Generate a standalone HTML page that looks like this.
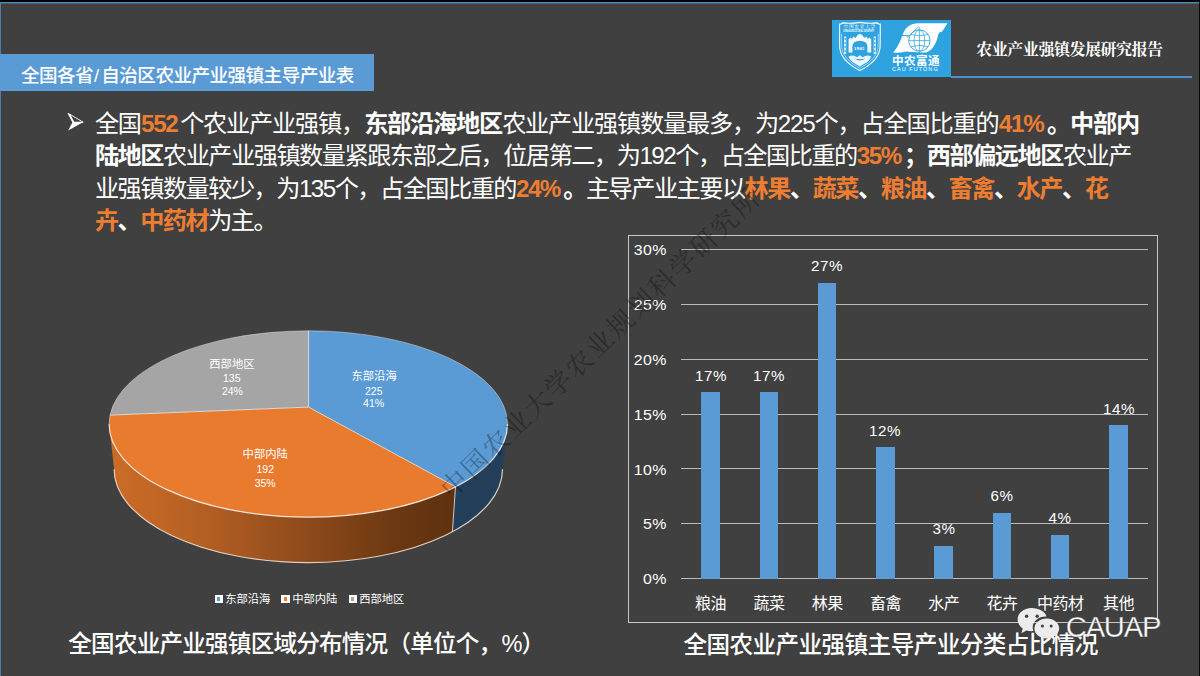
<!DOCTYPE html>
<html lang="zh-CN">
<head>
<meta charset="utf-8">
<title>全国各省/自治区农业产业强镇主导产业表</title>
<style>
*{box-sizing:border-box}
html,body{margin:0;padding:0}
body{width:1200px;height:676px;position:relative;overflow:hidden;background:#404040;color:#fff;font-family:"Liberation Sans",sans-serif}
.abs,.t{position:absolute}
.t{left:0;top:0;pointer-events:none;overflow:visible}
.edge-top{left:0;top:0;width:1200px;height:2px;background:#050307}
.edge-top2{left:0;top:2px;width:1200px;height:2px;background:linear-gradient(#4b8fb7 0,#4b8fb7 50%,#425f76 50%,#425f76 100%)}
.edge-left{left:0;top:2px;width:1px;height:674px;background:#4f7ea8}
.edge-right{left:1199px;top:0;width:1px;height:676px;background:#080808}
.titlebar{left:0;top:54px;width:374px;height:37px;background:#5b9bd5}
.logobox{left:832px;top:20px;width:119px;height:57px;background:#2ea3e0}
.hline{left:951px;top:76px;width:241px;height:2px;background:#4d8fca}
.frame{left:628px;top:235px;width:530px;height:388px;border:1px solid #c6c6c6}
.grid{left:681px;width:467px;height:1px;background:#bababa}
.bar{width:18.6px;background:#5b9bd5}
.num{font-size:14.6px;line-height:16px;height:16px;white-space:nowrap;letter-spacing:.45px;color:#fff}
.ax{left:623.4px;width:44px;text-align:right;transform-origin:100% 50%;transform:scaleX(1.09)}
.val{width:60px;text-align:center;transform:scaleX(1.04)}
.pn{font-size:10.5px;line-height:12px;height:12px;width:60px;text-align:center;color:#fff;white-space:nowrap}
.lgm{width:8.4px;height:8.8px;background:#fff;border:0}
.lgm i{position:absolute;left:2.8px;top:2.6px;width:2.8px;height:3.8px}
.cauap{left:1065.8px;top:609.8px;font-size:29.2px;line-height:34px;letter-spacing:-1.25px;color:#fff;white-space:nowrap;-webkit-text-stroke:.35px #404040}
.futong{left:892px;top:67.3px;font-size:10px;line-height:10px;letter-spacing:1.9px;transform-origin:0 0;transform:scale(.55,.5);white-space:nowrap;color:#fff}
.shield-en{left:843.2px;top:29.7px;font-size:10px;line-height:10px;transform-origin:0 0;transform:scale(.178,.26);white-space:nowrap;color:#fff;font-weight:bold}
.y1905{left:853.5px;top:46.2px;font-size:10px;line-height:10px;transform-origin:0 0;transform:scale(.52,.48);white-space:nowrap;color:#fff;font-family:"Liberation Serif",serif;font-weight:bold}
svg text{font-family:"Liberation Sans","Noto Sans CJK SC",sans-serif}
svg text.serif{font-family:"Liberation Serif","Noto Serif CJK SC",serif}
</style>
</head>
<body>
<div class="abs edge-top"></div><div class="abs edge-top2"></div><div class="abs edge-left"></div><div class="abs edge-right"></div>

<header>
<div class="abs titlebar"></div>
<svg class="t" role="img" aria-label="全国各省/自治区农业产业强镇主导产业表" width="1200" height="676" viewBox="0 0 1200 676"><title>全国各省/自治区农业产业强镇主导产业表</title><text y="81.6" font-size="18.6" font-weight="500" fill="#ffffff" letter-spacing="-0.56"><tspan x="21">全国各省</tspan><tspan x="93.9">/</tspan><tspan x="101.3">自治区农业产业强镇主导产业表</tspan></text></svg>
<div class="abs logobox"></div>
<svg class="t" width="1200" height="676" viewBox="0 0 1200 676" aria-hidden="true">
<!-- university shield -->
<g fill="none" stroke="#fff">
<path d="M839.6 24.2 Q841.4 24.4 842.6 22.9 Q851 23.8 859.9 22.4 Q869 23.8 877.3 22.9 Q878.5 24.4 880.3 24.2 L880.1 47 Q879.5 60.5 859.9 70.6 Q840.3 60.5 839.7 47 Z" stroke-width="1.1"/>
<path d="M841.6 33.6 L841.6 47 Q842.2 58.6 859.9 68.2 Q877.6 58.6 878.2 47 L878.2 33.6" stroke-width=".6" opacity=".85"/>
</g>
<g fill="#fff">
<!-- gate building -->
<path d="M848.6 52.6 V39.2 L850.4 37.6 L852 39 L853.4 36.4 L855.6 38 L857.4 35.2 L859.9 33.6 L862.4 35.2 L864.2 38 L866.4 36.4 L867.8 39 L869.4 37.6 L871.2 39.2 V52.6 H867.4 V46.4 Q867.2 41.2 859.9 40.8 Q852.6 41.2 852.4 46.4 V52.6 Z" opacity=".95"/>
<path d="M844 36.5 h2.2 v17.5 h-2.2z M873.7 36.5 h2.2 v17.5 h-2.2z" opacity=".8"/>
<path d="M844.6 38 h1 v2 h-1z M844.6 42 h1 v2 h-1z M844.6 46 h1 v2 h-1z M844.6 50 h1 v2 h-1z" fill="#2ea3e0"/>
<path d="M874.3 38 h1 v2 h-1z M874.3 42 h1 v2 h-1z M874.3 46 h1 v2 h-1z M874.3 50 h1 v2 h-1z" fill="#2ea3e0"/>
<!-- wheat / gear at bottom -->
<path d="M848.5 56.6 Q853 54.2 857 57.2 L859.9 55.2 L862.8 57.2 Q866.8 54.2 871.3 56.6 Q869.4 61.4 864.8 63.4 L859.9 66.6 L855 63.4 Q850.4 61.4 848.5 56.6 Z M854.5 58.4 Q859.9 62.6 865.3 58.4 Q859.9 60 854.5 58.4Z" opacity=".9" fill-rule="evenodd"/>
</g>
<!-- FT swoosh + globe -->
<g fill="#fff">
<path d="M893.2 52.4 C897.6 47.6 900.4 41.4 902.6 35 C905.4 27.2 910.4 23.3 918.4 23.3 L947.6 23.3 L942 31.8 C939.6 31.9 938.6 33 937.9 36 C936 44.2 932.6 49.8 926.6 52.4 L921 52.6 L905.6 51.6 C901 53 897 53 893.2 52.4 Z"/>
<circle cx="919.4" cy="40.6" r="11.5"/>
</g>
<g fill="none" stroke="#2ea3e0" stroke-width=".75">
<circle cx="919.4" cy="40.6" r="10.7" stroke-width=".9"/>
<ellipse cx="919.4" cy="40.6" rx="5.4" ry="10.7"/>
<path d="M919.4 27.2 V53.4 M908.8 40.6 H930 M910.6 34.4 Q919.4 37.4 928.2 34.4 M910.6 46.8 Q919.4 43.8 928.2 46.8"/>
<path d="M897.4 35.6 H908.6 M907 37.6 L918.6 26.8" stroke-width="1"/>
</g>
</svg>
<svg class="t" role="img" aria-label="中国农业大学" width="1200" height="676" viewBox="0 0 1200 676"><title>中国农业大学</title><text class="serif" x="843.6" y="28.2" font-size="4.7" fill="#ffffff" letter-spacing="0.7">中国农业大学</text></svg>
<div class="abs shield-en">CHINA AGRICULTURAL UNIVERSITY</div>
<div class="abs y1905">1905</div>
<svg class="t" role="img" aria-label="中农富通" width="1200" height="676" viewBox="0 0 1200 676"><title>中农富通</title><text x="892" y="65.2" font-size="11.6" font-weight="bold" fill="#ffffff" letter-spacing="0.4">中农富通</text></svg>
<div class="abs futong">CAU FUTONG</div>
<div class="abs hline"></div>
<svg class="t" role="img" aria-label="农业产业强镇发展研究报告" width="1200" height="676" viewBox="0 0 1200 676"><title>农业产业强镇发展研究报告</title><text class="serif" x="976.3" y="55" font-size="16" font-weight="bold" fill="#ffffff" letter-spacing="-0.48">农业产业强镇发展研究报告</text></svg>
</header>

<main>
<section>
<svg class="t" width="1200" height="676" viewBox="0 0 1200 676" aria-hidden="true">
<path d="M68 113.2 L83.2 122.2 H72.8 Z" fill="none" stroke="#fff" stroke-width=".9" stroke-linejoin="miter"/>
<path d="M67.8 112.9 L70.3 114.3 L74.4 122.2 H72.5 Z" fill="#fff"/>
<path d="M72.6 122 H83.4 L68.2 130.6 Z" fill="#fff"/>
</svg>
<svg class="t" role="img" aria-label="全国552个农业产业强镇，东部沿海地区农业产业强镇数量最多，为225个，占全国比重的41%。中部内陆地区农业产业强镇数量紧跟东部之后，位居第二，为192个，占全国比重的35%；西部偏远地区农业产业强镇数量较少，为135个，占全国比重的24%。主导产业主要以林果、蔬菜、粮油、畜禽、水产、花卉、中药材为主。" width="1200" height="676" viewBox="0 0 1200 676"><title>全国552个农业产业强镇，东部沿海地区农业产业强镇数量最多，为225个，占全国比重的41%。中部内陆地区农业产业强镇数量紧跟东部之后，位居第二，为192个，占全国比重的35%；西部偏远地区农业产业强镇数量较少，为135个，占全国比重的24%。主导产业主要以林果、蔬菜、粮油、畜禽、水产、花卉、中药材为主。</title>
<text y="132.15" font-size="24.2" fill="#ffffff" letter-spacing="-1.21"><tspan x="94.9">全国</tspan><tspan x="140.9" fill="#ed7d31" font-weight="bold">552</tspan><tspan x="180.13">个农业产业强镇，</tspan><tspan x="364.13" font-weight="bold">东部沿海地区</tspan><tspan x="502.13">农业产业强镇数量最多，为225个，占全国比重的</tspan><tspan x="998.83" fill="#ed7d31" font-weight="bold">41%</tspan><tspan x="1047.09" font-weight="bold">。中部内</tspan></text>
<text y="164.4" font-size="24.2" fill="#ffffff" letter-spacing="-1.5"><tspan x="94.9" font-weight="bold">陆地区</tspan><tspan x="162.97">农业产业强镇数量紧跟东部之后，位居第二，为192个，占全国比重的</tspan><tspan x="856.74" fill="#ed7d31" font-weight="bold">35%</tspan><tspan x="904.07" font-weight="bold">；</tspan><tspan x="926.76" font-weight="bold">西部偏远地区</tspan><tspan x="1062.9">农业产</tspan></text>
<text y="196.6" font-size="24.2" fill="#ffffff" letter-spacing="-1.52"><tspan x="94.9">业强镇数量较少，为135个，占全国比重的</tspan><tspan x="515.99" fill="#ed7d31" font-weight="bold">24%</tspan><tspan x="563.26" font-weight="bold">。</tspan><tspan x="585.93">主导产业主要以</tspan><tspan x="744.62" fill="#ed7d31" font-weight="bold">林果</tspan><tspan x="789.96" font-weight="bold">、</tspan><tspan x="812.63" fill="#ed7d31" font-weight="bold">蔬菜</tspan><tspan x="857.97" font-weight="bold">、</tspan><tspan x="880.64" fill="#ed7d31" font-weight="bold">粮油</tspan><tspan x="925.98" font-weight="bold">、</tspan><tspan x="948.65" fill="#ed7d31" font-weight="bold">畜禽</tspan><tspan x="993.99" font-weight="bold">、</tspan><tspan x="1016.66" fill="#ed7d31" font-weight="bold">水产</tspan><tspan x="1062" font-weight="bold">、</tspan><tspan x="1084.67" fill="#ed7d31" font-weight="bold">花</tspan></text>
<text y="228.85" font-size="24.2" fill="#ffffff" letter-spacing="-1.55"><tspan x="94.9" fill="#ed7d31" font-weight="bold">卉</tspan><tspan x="117.55" font-weight="bold">、</tspan><tspan x="140.2" fill="#ed7d31" font-weight="bold">中药材</tspan><tspan x="208.15">为主。</tspan></text>
</svg>
</section>

<figure style="margin:0">
<svg class="t" width="1200" height="676" viewBox="0 0 1200 676" aria-hidden="true">
<defs>
<linearGradient id="og" x1="110" x2="455" y1="0" y2="0" gradientUnits="userSpaceOnUse">
<stop offset="0" stop-color="#cd6c27"/><stop offset=".28" stop-color="#b35f23"/><stop offset=".6" stop-color="#8a481a"/><stop offset=".85" stop-color="#693711"/><stop offset="1" stop-color="#5f310f"/>
</linearGradient>
<clipPath id="topc"><ellipse cx="308.3" cy="424" rx="199.2" ry="93.2"/></clipPath>
</defs>
<path d="M109.1 424 A199.2 93.2 0 0 0 455.5 486.79 L452.4 531.81 A194.2 93.4 0 0 1 114.1 469.2 L109.1 424 Z" fill="url(#og)"/>
<path d="M455.5 486.79 A199.2 93.2 0 0 0 507.5 424 L502.5 469.2 A194.2 93.4 0 0 1 452.4 531.81 Z" fill="#243f5a"/>
<path d="M455.5 486.79 L452.4 531.81" stroke="#e8e2dc" stroke-width="1" fill="none" opacity=".85"/>
<path d="M114.1 469.2 A194.2 93.4 0 0 0 502.5 469.2" stroke="#efdccd" stroke-width="1.2" fill="none" opacity=".9"/>
<path d="M308.6 407.1 L308.6 330.8 A199.2 93.2 0 0 1 455.5 486.79 Z" fill="#5b9bd5"/>
<path d="M308.6 407.1 L455.5 486.79 A199.2 93.2 0 0 1 110.01 415.1 Z" fill="#e97b2f"/>
<path d="M308.6 407.1 L110.01 415.1 A199.2 93.2 0 0 1 308.6 330.8 Z" fill="#a5a5a5"/>
<path d="M109.1 424 A199.2 93.2 0 0 0 507.5 424" fill="none" stroke="#f6f1ec" stroke-width="1.2" opacity=".9"/>
<path d="M109.1 424 A199.2 93.2 0 0 1 507.5 424" fill="none" stroke="#f6f1ec" stroke-width="1" opacity=".4"/>
<path d="M308.6 407.1 L308.6 330.8 M308.6 407.1 L455.5 486.79 M308.6 407.1 L110.01 415.1" stroke="#ececec" stroke-width="1" fill="none" opacity=".8"/>
</svg>
<svg class="t" role="img" aria-label="西部地区 中部内陆 东部沿海" width="1200" height="676" viewBox="0 0 1200 676"><title>西部地区 中部内陆 东部沿海</title><text x="209.3" y="367.6" font-size="11.3" fill="#ffffff">西部地区</text><text x="351.5" y="379.6" font-size="11.3" fill="#ffffff">东部沿海</text><text x="242.6" y="458" font-size="11.3" fill="#ffffff">中部内陆</text></svg>
<div class="abs pn" style="left:201.8px;top:372.4px">135</div>
<div class="abs pn" style="left:202.4px;top:385.2px">24%</div>
<div class="abs pn" style="left:343.8px;top:384.6px">225</div>
<div class="abs pn" style="left:343.6px;top:397.4px">41%</div>
<div class="abs pn" style="left:235.3px;top:463.2px">192</div>
<div class="abs pn" style="left:235.2px;top:476.9px">35%</div>
<div class="abs lgm" style="left:214.6px;top:594.6px"><i style="background:#5b9bd5"></i></div>
<div class="abs lgm" style="left:281.4px;top:594.6px"><i style="background:#ed7d31"></i></div>
<div class="abs lgm" style="left:348.6px;top:594.6px"><i style="background:#a5a5a5"></i></div>
<svg class="t" role="img" aria-label="东部沿海 中部内陆 西部地区" width="1200" height="676" viewBox="0 0 1200 676"><title>东部沿海 中部内陆 西部地区</title><text x="225.2" y="603.4" font-size="11.3" fill="#ffffff">东部沿海</text><text x="292.2" y="603.4" font-size="11.3" fill="#ffffff">中部内陆</text><text x="359.2" y="603.4" font-size="11.3" fill="#ffffff">西部地区</text></svg>
<svg class="t" role="img" aria-label="全国农业产业强镇区域分布情况（单位个，%）" width="1200" height="676" viewBox="0 0 1200 676"><title>全国农业产业强镇区域分布情况（单位个，%）</title><text x="68.3" y="652" font-size="23.6" font-weight="500" fill="#ffffff" letter-spacing="-0.8">全国农业产业强镇区域分布情况（单位个，%）</text></svg>
</figure>

<figure style="margin:0">
<div class="abs frame"></div>
<div class="abs grid" style="top:249px"></div><div class="abs num ax" style="top:242.1px">30%</div><div class="abs grid" style="top:304px"></div><div class="abs num ax" style="top:296.97px">25%</div><div class="abs grid" style="top:359px"></div><div class="abs num ax" style="top:351.83px">20%</div><div class="abs grid" style="top:414px"></div><div class="abs num ax" style="top:406.7px">15%</div><div class="abs grid" style="top:468px"></div><div class="abs num ax" style="top:461.57px">10%</div><div class="abs grid" style="top:523px"></div><div class="abs num ax" style="top:516.43px">5%</div><div class="abs grid" style="top:578px"></div><div class="abs num ax" style="top:571.3px">0%</div>
<div class="abs bar" style="left:701.3px;top:392.45px;height:186.65px"></div><div class="abs num val" style="left:680.6px;top:367.85px">17%</div><div class="abs bar" style="left:759.6px;top:392.45px;height:186.65px"></div><div class="abs num val" style="left:738.9px;top:367.85px">17%</div><div class="abs bar" style="left:817.9px;top:282.95px;height:296.15px"></div><div class="abs num val" style="left:797.2px;top:258.35px">27%</div><div class="abs bar" style="left:876.1px;top:447.2px;height:131.9px"></div><div class="abs num val" style="left:855.4px;top:422.6px">12%</div><div class="abs bar" style="left:934.4px;top:545.75px;height:33.35px"></div><div class="abs num val" style="left:913.7px;top:521.15px">3%</div><div class="abs bar" style="left:992.6px;top:512.9px;height:66.2px"></div><div class="abs num val" style="left:971.9px;top:488.3px">6%</div><div class="abs bar" style="left:1050.9px;top:534.8px;height:44.3px"></div><div class="abs num val" style="left:1030.2px;top:510.2px">4%</div><div class="abs bar" style="left:1109.2px;top:425.3px;height:153.8px"></div><div class="abs num val" style="left:1088.5px;top:400.7px">14%</div>
<svg class="t" role="img" aria-label="粮油 蔬菜 林果 畜禽 水产 花卉 中药材 其他" width="1200" height="676" viewBox="0 0 1200 676"><title>粮油 蔬菜 林果 畜禽 水产 花卉 中药材 其他</title><text y="608.5" font-size="16" fill="#ffffff" letter-spacing="-0.5"><tspan x="695.1">粮油</tspan><tspan x="753.4">蔬菜</tspan><tspan x="811.7">林果</tspan><tspan x="869.9">畜禽</tspan><tspan x="928.2">水产</tspan><tspan x="986.4">花卉</tspan><tspan x="1036.95">中药材</tspan><tspan x="1103">其他</tspan></text></svg>
<svg class="t" role="img" aria-label="全国农业产业强镇主导产业分类占比情况" width="1200" height="676" viewBox="0 0 1200 676"><title>全国农业产业强镇主导产业分类占比情况</title><text x="683.6" y="653" font-size="23.6" font-weight="500" fill="#ffffff" letter-spacing="-0.59">全国农业产业强镇主导产业分类占比情况</text></svg>
</figure>
</main>
<svg class="t" role="img" aria-label="中国农业大学农业规划科学研究所" width="1200" height="676" viewBox="0 0 1200 676"><title>中国农业大学农业规划科学研究所</title><g transform="translate(451.41,499.86) rotate(-43.97)" opacity="0.3"><text class="serif" x="0" y="0" font-size="26.5" fill="#000" letter-spacing="2.36">中国农业大学农业规划科学研究所</text></g></svg>
<svg class="t" width="1200" height="676" viewBox="0 0 1200 676" aria-hidden="true">
<g transform="translate(0,2)"><g fill="#ececec">
<path d="M1031.6 606 C1023.6 606 1017.6 611.2 1017.6 617.6 C1017.6 621.2 1019.6 624.4 1022.8 626.6 L1021.4 631.2 L1026.4 628.4 C1028 628.9 1029.8 629.2 1031.6 629.2 C1032.2 629.2 1032.8 629.2 1033.4 629.1 C1032.9 627.9 1032.7 626.6 1032.7 625.3 C1032.7 619.3 1038.6 614.5 1045.6 614.5 C1045.9 614.5 1046.2 614.5 1046.5 614.5 C1045.3 609.6 1039.1 606 1031.6 606 Z"/>
<path d="M1046.8 616.4 C1039.8 616.4 1034.4 620.9 1034.4 626.4 C1034.4 631.9 1039.8 636.4 1046.8 636.4 C1048.3 636.4 1049.8 636.2 1051.1 635.8 L1055.2 638.2 L1054.1 634.3 C1057.2 632.5 1059.2 629.6 1059.2 626.4 C1059.2 620.9 1053.8 616.4 1046.8 616.4 Z"/>
</g>
<g fill="#404040">
<circle cx="1026.6" cy="614.2" r="1.7"/><circle cx="1037.2" cy="614.2" r="1.7"/>
<circle cx="1042.4" cy="624" r="1.5"/><circle cx="1051.2" cy="624" r="1.5"/>
</g>
</g></svg>
<div class="abs cauap">CAUAP</div>
</body>
</html>
